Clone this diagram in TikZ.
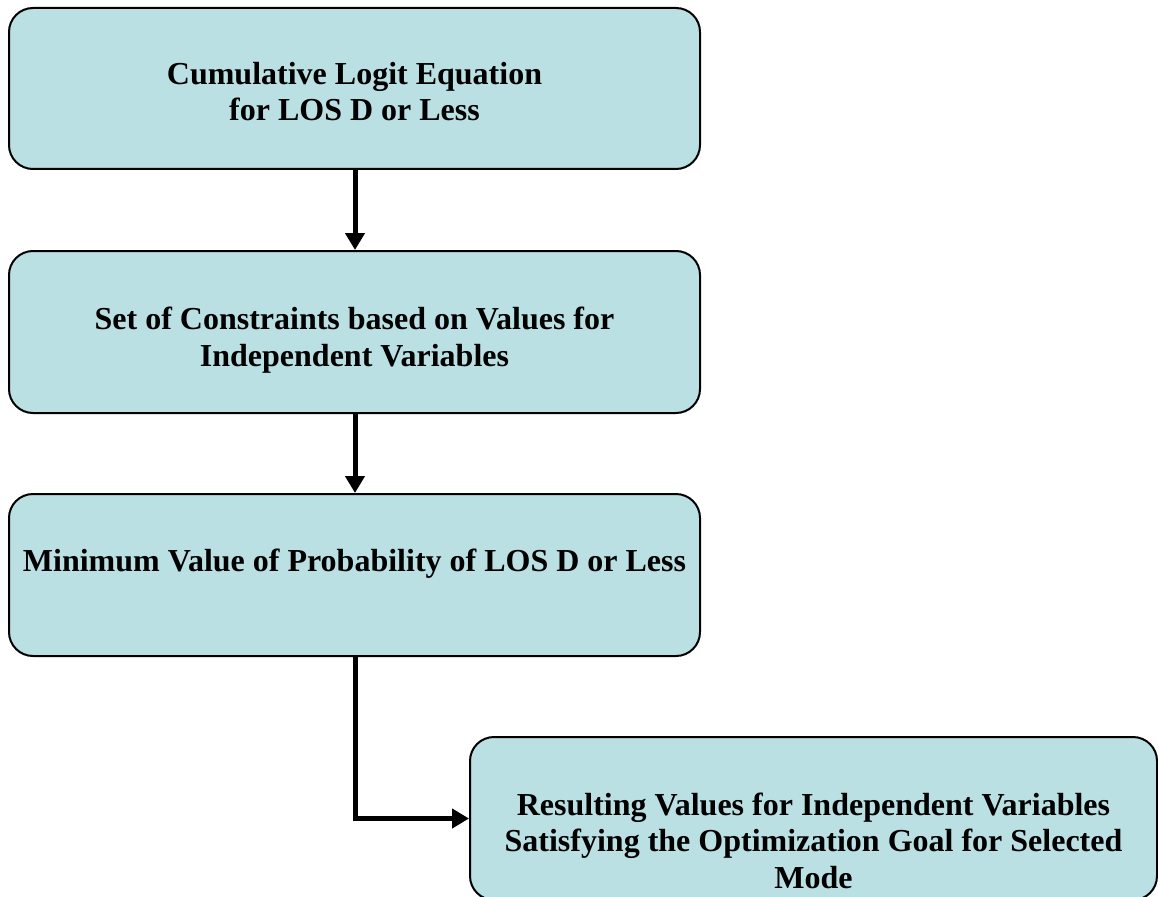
\documentclass[tikz,border=0pt]{standalone}
\usepackage{fontspec}
\setmainfont{Liberation Serif}
\usetikzlibrary{arrows.meta}
\definecolor{boxfill}{RGB}{186,224,227}
\tikzset{
  flowbox/.style={draw=black, line width=2pt, fill=boxfill, rounded corners=24pt,
    inner sep=0pt},
  flowtext/.style={inner sep=0pt, align=center, anchor=base,
    font=\fontsize{32}{36.5}\selectfont\bfseries},
  flowarrow/.style={line width=5pt, -{Triangle[width=19pt,length=17pt]}}
}
\begin{document}
\begin{tikzpicture}[x=1pt,y=-1pt]
\useasboundingbox (0,0) rectangle (1158,896);
\clip (0,0) rectangle (1158,896);
\node[flowbox, minimum width=691pt, minimum height=161pt] (a) at (354.5,88.5) {};
\node[flowbox, minimum width=691pt, minimum height=162pt] (b) at (354.5,332) {};
\node[flowbox, minimum width=691pt, minimum height=162pt] (c) at (354.5,575) {};
\node[flowbox, minimum width=687pt, minimum height=163pt] (d) at (813.5,818.5) {};
\node[flowtext] (at) at (354.5,121)
  {Cumulative Logit Equation\\for LOS D or Less};
\node[flowtext] (bt) at (354.5,366)
  {Set of Constraints based on Values for\\Independent Variables};
\node[flowtext] (ct) at (354.5,571)
  {Minimum Value of Probability of LOS D or Less};
\node[flowtext] (dt) at (813.5,888)
  {Resulting Values for Independent Variables\\Satisfying the Optimization Goal for Selected\\Mode};
\draw[flowarrow] (a.south -| 355,0) -- (b.north -| 355,0);
\draw[flowarrow] (b.south -| 355,0) -- (c.north -| 355,0);
\draw[flowarrow] (c.south -| 355,0) |- (d.west);
\end{tikzpicture}
\end{document}
